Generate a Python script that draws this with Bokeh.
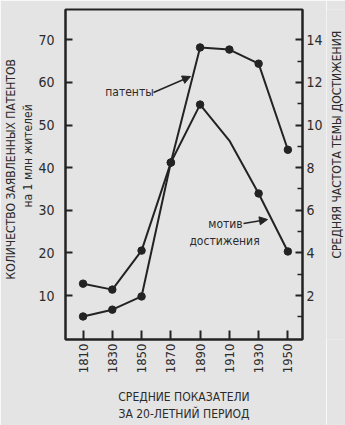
import numpy as np
from bokeh.plotting import figure
from bokeh.layouts import row
from bokeh.models import Range1d, LinearAxis, FixedTicker, Label, Arrow, NormalHead, Title
from bokeh.core.properties import value
from bokeh.embed import file_html
from bokeh.resources import INLINE

# ---- data ----
years = [1810, 1830, 1850, 1870, 1890, 1910, 1930, 1950]
patents = [5.1, 6.7, 9.8, 41.2, 68.2, 67.7, 64.4, 44.2]          # per 1 mln inhabitants (left axis)
motive = [2.56, 2.28, 4.11, 8.24, 10.96, 9.27, 6.79, 4.07]       # mean frequency of achievement theme (right axis)
motive_unmarked = [1910]
left_ticks = [10, 20, 30, 40, 50, 60, 70]
right_ticks = [2, 4, 6, 8, 10, 12, 14]
right_minor = [1, 3, 5, 7, 9, 11, 13]

BG = "#e4e4e4"
INK = "#232323"
TXT = "#2b2b2b"
FONT = "DejaVu Sans Condensed, Roboto"

STRIP = 19                      # width of the right-hand title strip
X0, X1 = 1798.0, 1960.0
Y0, Y1 = -0.3, 77.1
L, R, T, B = 65, 24, 9, 86
W, H = 345 - STRIP, 425
FW, FH = W - L - R, H - T - B

def xd(sx):
    return X0 + (sx - L) / FW * (X1 - X0)

def yd(sy):
    return Y1 - (sy - T) / FH * (Y1 - Y0)

p = figure(width=W, height=H, x_range=Range1d(X0, X1), y_range=Range1d(Y0, Y1),
           output_backend="svg", toolbar_location=None,
           min_border_left=L, min_border_right=R, min_border_top=T, min_border_bottom=B)
p.extra_y_ranges = {"motive": Range1d(Y0 / 5, Y1 / 5)}
p.xgrid.visible = False
p.ygrid.visible = False
p.background_fill_color = BG
p.border_fill_color = BG
p.outline_line_color = INK
p.outline_line_width = 2

def style_axis(ax, size="14px"):
    ax.axis_line_color = INK
    ax.axis_line_width = 2
    ax.major_tick_line_color = INK
    ax.major_tick_line_width = 2
    ax.minor_tick_line_color = INK
    ax.minor_tick_line_width = 1.5
    ax.major_label_text_font = FONT
    ax.major_label_text_font_size = size
    ax.major_label_text_color = TXT
    ax.axis_label_text_font = FONT
    ax.axis_label_text_font_size = "12px"
    ax.axis_label_text_font_style = "normal"
    ax.axis_label_text_color = TXT

xa = p.xaxis[0]
xa.ticker = FixedTicker(ticks=years)
style_axis(xa, "13px")
xa.major_tick_in = 9
xa.major_tick_out = 0
xa.minor_tick_line_color = None
xa.major_label_orientation = np.pi / 2
xa.major_label_standoff = 4
xa.axis_label = "СРЕДНИЕ ПОКАЗАТЕЛИ\nЗА 20-ЛЕТНИЙ ПЕРИОД"
xa.axis_label_standoff = 14

ya = p.yaxis[0]
ya.ticker = FixedTicker(ticks=left_ticks)
style_axis(ya)
ya.major_tick_in = 7
ya.major_tick_out = 0
ya.minor_tick_line_color = None
ya.major_label_standoff = 11

ra = LinearAxis(y_range_name="motive", ticker=FixedTicker(ticks=right_ticks, minor_ticks=right_minor))
style_axis(ra)
ra.major_tick_in = 7
ra.major_tick_out = 0
ra.minor_tick_in = 5
ra.minor_tick_out = 0
ra.major_label_standoff = 4
p.add_layout(ra, "right")

# left titles (inner line first)
t2 = Title(text="на 1 млн жителей", align="left", offset=132, standoff=2,
           text_font=FONT, text_font_size="12px", text_font_style="normal", text_color=TXT)
t1 = Title(text="КОЛИЧЕСТВО ЗАЯВЛЕННЫХ ПАТЕНТОВ", align="left", offset=60, standoff=0,
           text_font=FONT, text_font_size="12px", text_font_style="normal", text_color=TXT)
p.add_layout(t2, "left")
p.add_layout(t1, "left")

# series
p.line(years, patents, line_color=INK, line_width=2)
p.scatter(years, patents, size=7.5, fill_color=INK, line_color=INK)
p.line(years, motive, line_color=INK, line_width=2, y_range_name="motive")
mk = [i for i, y in enumerate(years) if y not in motive_unmarked]
p.scatter([years[i] for i in mk], [motive[i] for i in mk], size=7.5, fill_color=INK,
          line_color=INK, y_range_name="motive")

def lab(text, sx, sy, size):
    p.add_layout(Label(x=xd(sx), y=yd(sy), text=text, text_align="center",
                       text_baseline="middle", text_font=FONT, text_font_size=size,
                       text_color=TXT))

# annotations
lab("патенты", 129, 91, "12px")
lab("мотив", 225, 223, "12px")
lab("достижения", 224, 240, "12px")
p.add_layout(Arrow(x_start=xd(153), y_start=yd(92), x_end=xd(190), y_end=yd(76),
                   line_color=INK, line_width=1.5,
                   end=NormalHead(size=8, fill_color=INK, line_color=INK)))
p.add_layout(Arrow(x_start=xd(243), y_start=yd(223), x_end=xd(267), y_end=yd(219),
                   line_color=INK, line_width=1.5,
                   end=NormalHead(size=8, fill_color=INK, line_color=INK)))

# right-hand title strip (text reads bottom-to-top)
pt = figure(width=STRIP, height=H, x_range=Range1d(0, STRIP), y_range=Range1d(0, H),
            output_backend="svg", toolbar_location=None,
            min_border_left=0, min_border_right=0, min_border_top=0, min_border_bottom=0)
pt.axis.visible = False
pt.xgrid.visible = False
pt.ygrid.visible = False
pt.outline_line_color = None
pt.background_fill_color = BG
pt.border_fill_color = BG
pt.text(x=[STRIP / 2 + 0.5], y=[H - 174], text=["СРЕДНЯЯ ЧАСТОТА ТЕМЫ ДОСТИЖЕНИЯ"],
        angle=np.pi / 2, text_align="center", text_baseline="middle",
        text_font=value(FONT), text_font_size="12px", text_color=TXT)

lay = row(p, pt, spacing=0)
open("out.html", "w").write(file_html(lay, INLINE))
